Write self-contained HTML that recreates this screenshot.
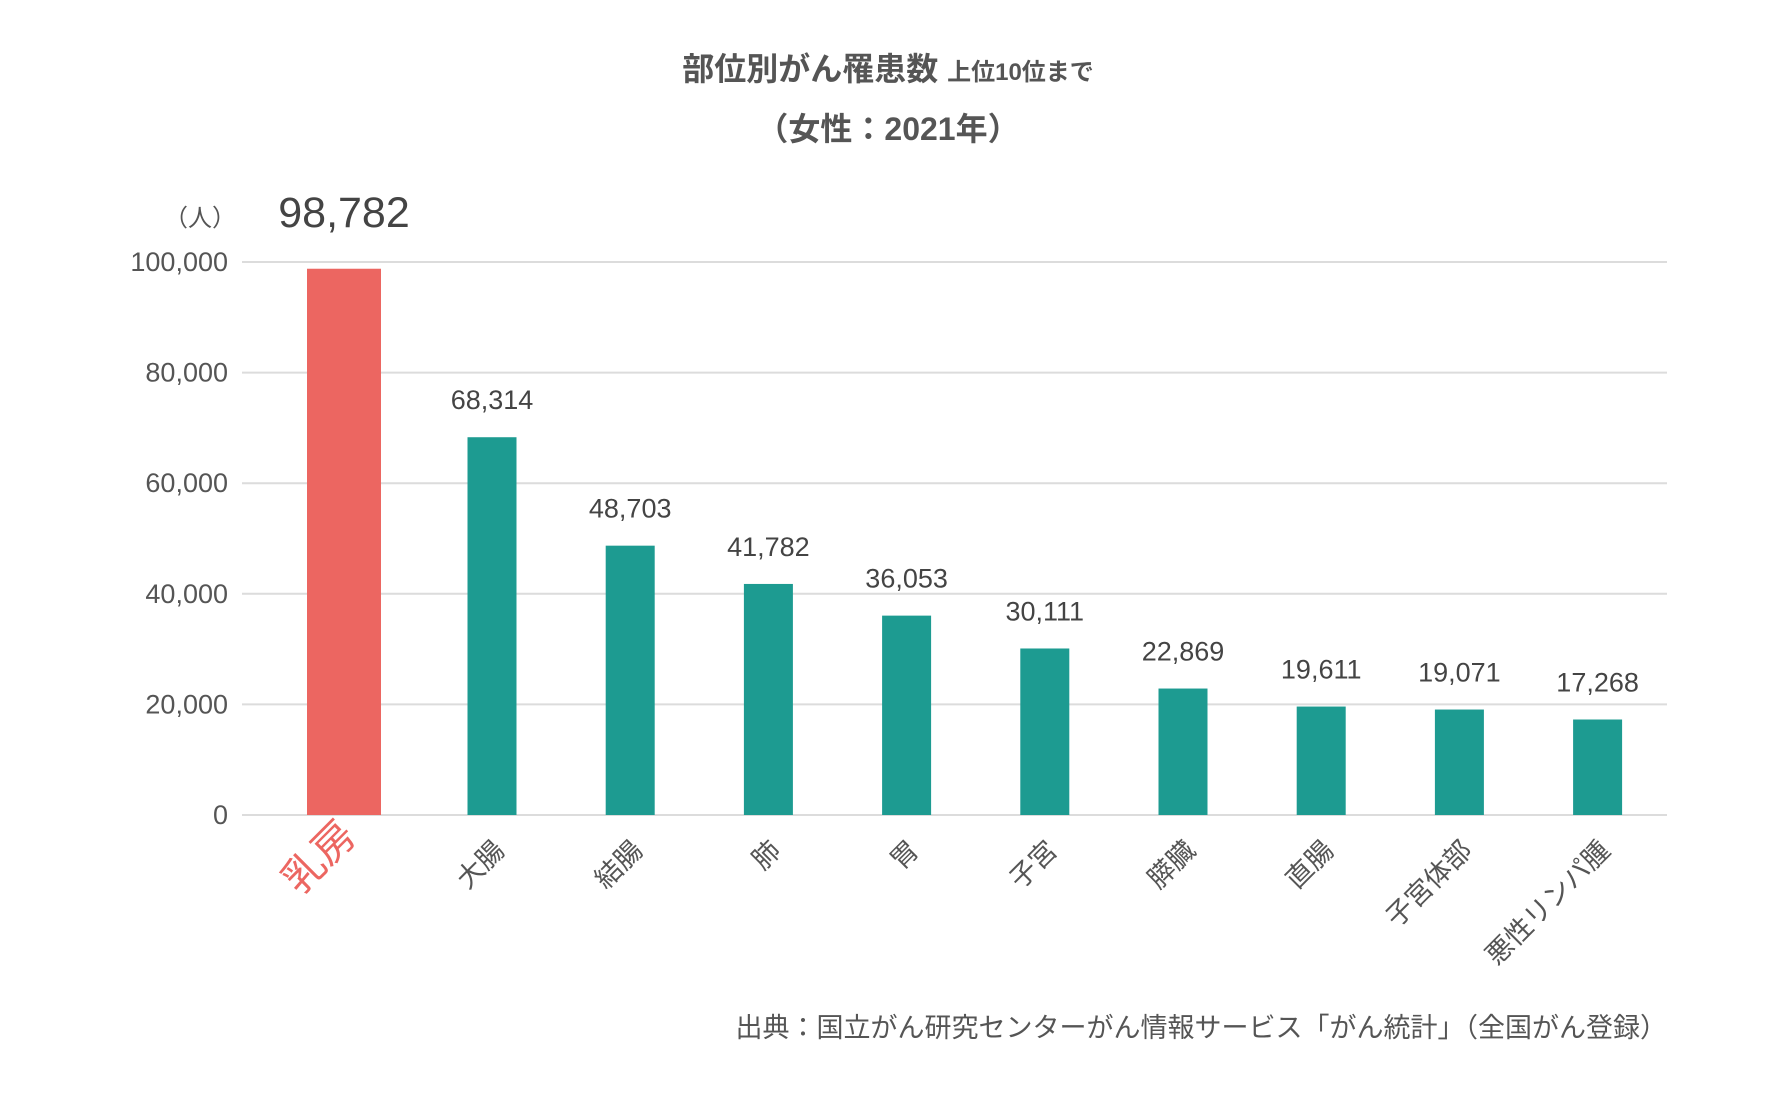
<!DOCTYPE html>
<html><head><meta charset="utf-8"><style>
html,body{margin:0;padding:0;background:#fff;}
svg text{font-family:"Liberation Sans","Noto Sans CJK JP",sans-serif;}
</style></head><body>
<svg id="chart" width="1776" height="1092" viewBox="0 0 1776 1092" xmlns="http://www.w3.org/2000/svg">
<text x="888" y="80" text-anchor="middle" font-size="32" font-weight="bold" fill="#555">部位別がん罹患数 <tspan font-size="24">上位10位まで</tspan></text>
<text x="888" y="140" text-anchor="middle" font-size="32" font-weight="bold" fill="#555">（女性：2021年）</text>
<text x="236" y="226" text-anchor="end" font-size="24" fill="#555">（人）</text>
<g id="grid"></g><g id="bars"></g><g id="labels"></g>
<text x="1667" y="1037" text-anchor="end" font-size="27" fill="#555">出典：国立がん研究センターがん情報サービス「がん統計」（全国がん登録）</text>
</svg>
<script>
const categories=["乳房","大腸","結腸","肺","胃","子宮","膵臓","直腸","子宮体部","悪性リンパ腫"];
const values=[98782,68314,48703,41782,36053,30111,22869,19611,19071,17268];
const valueLabels=["98,782","68,314","48,703","41,782","36,053","30,111","22,869","19,611","19,071","17,268"];
const yTicks=[0,20000,40000,60000,80000,100000];
const yTickLabels=["0","20,000","40,000","60,000","80,000","100,000"];
const NS="http://www.w3.org/2000/svg";
const x0=242,x1=1667,yBase=815,yTop=262,yMax=100000;
const y=v=>yBase-(v/yMax)*(yBase-yTop);
const step=138.2, firstC=492-step;
const xc=i=>i===0?344:firstC+i*step;
function mk(tag,attrs,parent){const e=document.createElementNS(NS,tag);for(const k in attrs)e.setAttribute(k,attrs[k]);parent.appendChild(e);return e;}
const grid=document.getElementById('grid'),bars=document.getElementById('bars'),labels=document.getElementById('labels');
yTicks.forEach((t,i)=>{
 const l=mk('line',{x1:x0,x2:x1,y1:y(t),y2:y(t),stroke:'#dcdcdc','stroke-width':2},grid);
 
 
 const tx=mk('text',{x:228,y:y(t)+9,'text-anchor':'end','font-size':27,fill:'#555'},grid);
 tx.textContent=yTickLabels[i];
 
 
});
values.forEach((v,i)=>{
 const w=i===0?74:49, c=xc(i);
 const r=mk('rect',{x:c-w/2,y:y(v),width:w,height:yBase-y(v),fill:i===0?'#ec6661':'#1d9b91'},bars);
 
 
 const vt=mk('text',{x:i===0?344:c,y:i===0?227:y(v)-28,'text-anchor':'middle','font-size':i===0?43:27,fill:'#444'},labels);
 vt.textContent=valueLabels[i];
 
 
 const ax=c+14, ay=i===0?838:852;
 const ct=mk('text',{x:ax,y:ay,'text-anchor':'end','font-size':i===0?41:27,fill:i===0?'#ec6661':'#555',transform:`rotate(-45 ${ax} ${ay})`},labels);
 ct.textContent=categories[i];
 
 
});
</script>
</body></html>
